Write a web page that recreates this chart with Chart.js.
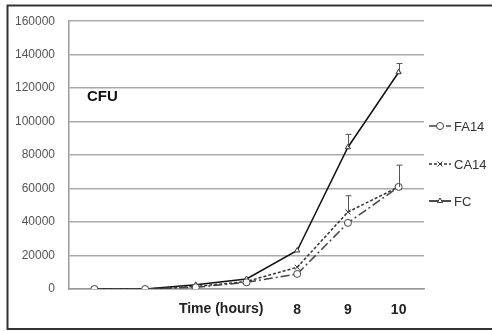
<!DOCTYPE html>
<html>
<head>
<meta charset="utf-8">
<script src="https://cdn.jsdelivr.net/npm/chart.js@4"></script>
<style>
  html, body { margin: 0; padding: 0; background: #fff; }
  #wrap { position: relative; width: 492px; height: 331px; }
  canvas { display: block; }
</style>
</head>
<body>
<div id="wrap"><canvas id="c" width="492" height="331"></canvas></div>
<script>
// ---- data ----
const categories = ["", "", "", "", "8", "9", "10"];
const xAxisText = "Time (hours)";
const annotationText = "CFU";
const seriesNames = ["FA14", "CA14", "FC"];
const fa14Values = [0, 0, 1000, 4000, 9000, 39500, 61000];
const ca14Values = [0, 0, 1500, 4500, 13000, 46000, 61000];
const fcValues   = [0, 0, 2500, 6000, 23000, 84700, 129500];
const fa14Err = [null, null, null, null, null, null, 13000];
const ca14Err = [null, null, null, null, null, 9700, null];
const fcErr   = [null, null, null, null, null, 7700, 5200];
const yTicksMax = 160000;
const yTicksStep = 20000;

const errs = [fa14Err, ca14Err, fcErr];

const frame = {
  id: 'frame',
  afterDraw(chart) {
    const ctx = chart.ctx;
    ctx.save();
    ctx.strokeStyle = '#333';
    ctx.lineWidth = 2;
    ctx.beginPath();
    ctx.moveTo(492, 5.5); ctx.lineTo(7.5, 5.5); ctx.lineTo(7.5, 329); ctx.lineTo(492, 329);
    ctx.stroke();
    ctx.restore();
  }
};

const errorBars = {
  id: 'errorBars',
  afterDatasetsDraw(chart) {
    const ctx = chart.ctx;
    const y = chart.scales.y;
    ctx.save();
    ctx.strokeStyle = '#555';
    ctx.lineWidth = 1;
    chart.data.datasets.forEach((ds, i) => {
      const meta = chart.getDatasetMeta(i);
      errs[i].forEach((e, j) => {
        if (e == null) return;
        const pt = meta.data[j];
        const top = y.getPixelForValue(ds.data[j] + e);
        const x = Math.round(pt.x) + 0.5;
        ctx.beginPath();
        ctx.moveTo(x, pt.y);
        ctx.lineTo(x, top);
        ctx.moveTo(x - 3, top);
        ctx.lineTo(x + 3, top);
        ctx.stroke();
      });
    });
    ctx.restore();
  }
};

const texts = {
  id: 'texts',
  afterDraw(chart) {
    const ctx = chart.ctx;
    const xs = chart.scales.x;
    ctx.save();
    // x-axis caption between 3rd and 4th categories
    ctx.font = 'bold 14px "Liberation Sans", Arial, sans-serif';
    ctx.fillStyle = '#222';
    ctx.textAlign = 'center';
    ctx.textBaseline = 'middle';
    const cx = (xs.getPixelForValue(2) + xs.getPixelForValue(3)) / 2;
    ctx.fillText(xAxisText, cx, 309);
    // CFU annotation
    ctx.font = 'bold 15px "Liberation Sans", Arial, sans-serif';
    ctx.fillStyle = '#111';
    ctx.textAlign = 'left';
    ctx.fillText(annotationText, 87, 97);
    // custom legend
    const ys = [126, 164, 201];
    chart.data.datasets.forEach((ds, i) => {
      const ly = ys[i];
      ctx.strokeStyle = ds.borderColor;
      ctx.lineWidth = 1.5;
      ctx.setLineDash(ds.borderDash || []);
      ctx.beginPath();
      ctx.moveTo(429, ly); ctx.lineTo(451, ly);
      ctx.stroke();
      ctx.setLineDash([]);
      ctx.fillStyle = '#fff';
      ctx.strokeStyle = ds.pointBorderColor;
      ctx.lineWidth = 1;
      Chart.helpers.drawPoint(ctx, {
        pointStyle: ds.pointStyle, radius: ds.pointRadius, rotation: 0,
        borderWidth: 1
      }, 440, ly);
      ctx.fillStyle = '#333';
      ctx.font = '13px "Liberation Sans", Arial, sans-serif';
      ctx.textAlign = 'left';
      ctx.fillText(ds.label, 454, ly + 1);
    });
    ctx.restore();
  }
};

new Chart(document.getElementById('c'), {
  type: 'line',
  data: {
    labels: categories,
    datasets: [
      {
        label: seriesNames[0], data: fa14Values,
        borderColor: '#444', borderWidth: 1.5, borderDash: [9, 3, 2, 3],
        pointStyle: 'circle', pointRadius: 3.5,
        pointBorderColor: '#444', pointBackgroundColor: '#fff', pointBorderWidth: 1,
        tension: 0
      },
      {
        label: seriesNames[1], data: ca14Values,
        borderColor: '#333', borderWidth: 1.5, borderDash: [3, 2],
        pointStyle: 'crossRot', pointRadius: 3.5,
        pointBorderColor: '#333', pointBorderWidth: 1,
        tension: 0
      },
      {
        label: seriesNames[2], data: fcValues,
        borderColor: '#111', borderWidth: 1.5,
        pointStyle: 'triangle', pointRadius: 3,
        pointBorderColor: '#333', pointBackgroundColor: '#fff', pointBorderWidth: 1,
        tension: 0
      }
    ]
  },
  options: {
    responsive: false,
    animation: false,
    layout: { padding: { top: 19, right: 68, left: 0, bottom: 0 } },
    plugins: { legend: { display: false }, tooltip: { enabled: false } },
    scales: {
      x: {
        offset: true,
        grid: { display: false, drawTicks: false },
        border: { display: true, color: '#999', width: 1.5 },
        ticks: {
          padding: 13, maxRotation: 0, autoSkip: false,
          color: '#222', font: { family: '"Liberation Sans", Arial, sans-serif', size: 14, weight: 'bold' }
        },
        afterFit(s) { s.height = 42; }
      },
      y: {
        min: 0, max: yTicksMax,
        grid: { color: '#aaa', lineWidth: 1.5, drawTicks: false },
        border: { display: true, color: '#999', width: 1.5 },
        ticks: {
          stepSize: yTicksStep, padding: 14,
          color: '#555', font: { family: '"Liberation Sans", Arial, sans-serif', size: 12 },
          callback: (v) => String(v)
        },
        afterFit(s) { s.width = 69; }
      }
    }
  },
  plugins: [frame, errorBars, texts]
});
</script>
</body>
</html>
